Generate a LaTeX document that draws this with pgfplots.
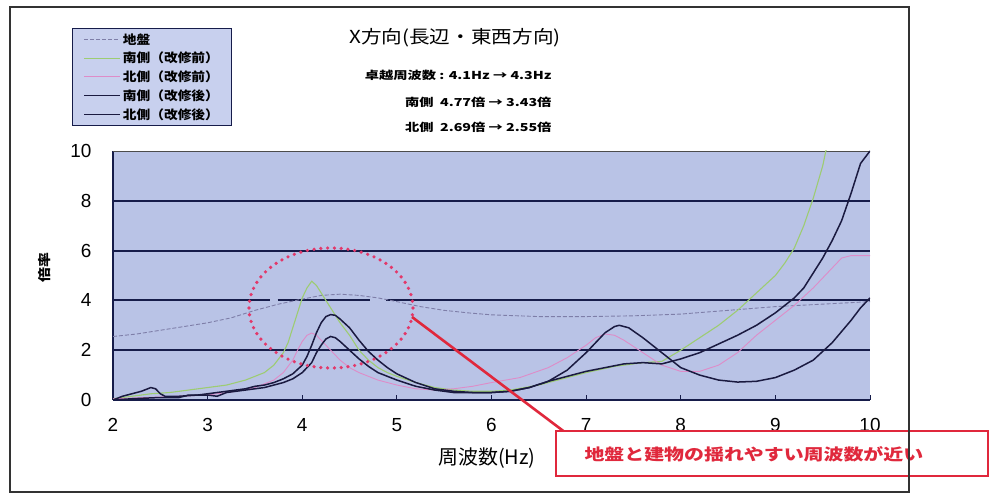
\documentclass[border=0pt]{standalone}
\usepackage{pgfplots}
\pgfplotsset{compat=1.18}
\usepackage{fontspec}
\setmainfont{Noto Sans CJK JP}
\newfontfamily\jpA[FakeStretch=1.3]{Noto Sans CJK JP}
\newfontfamily\jpB[FakeStretch=1.15]{Noto Sans CJK JP}
\newfontfamily\jpL[FakeStretch=1.1]{Noto Sans CJK JP}
\newfontfamily\jpC[FakeStretch=1.25]{Noto Sans CJK JP}
\newfontfamily\arialf{Liberation Sans}
\definecolor{plotbg}{HTML}{B9C3E6}
\definecolor{legbg}{HTML}{C8D0EE}
\definecolor{gridc}{HTML}{161C4A}
\definecolor{groundc}{HTML}{7E7EA8}
\definecolor{sbefore}{HTML}{9DCC72}
\definecolor{nbefore}{HTML}{DE8CC8}
\definecolor{afterc}{HTML}{1A1A40}
\definecolor{callred}{HTML}{E0283C}
\definecolor{dotred}{HTML}{E2386A}
\begin{document}
\begin{tikzpicture}[x=1bp,y=1bp]
\useasboundingbox (0,0) rectangle (990,497);
\fill[white] (0,0) rectangle (990,497);
\begin{axis}[
 at={(113bp,97bp)}, anchor=south west,
 scale only axis, width=757bp, height=249bp,
 xmin=2,xmax=10,ymin=0,ymax=10,
 axis background/.style={fill=plotbg},
 axis x line*=bottom, axis y line*=left,
 axis line style={-, line width=1.3bp, color=gridc},
 xtick={2,...,10}, ytick={0,2,...,10},
 tick align=inside, major tick length=5bp,
 ytick style={draw=none},
 xtick style={line width=1bp, color=gridc},
 ticklabel style={font=\arialf\fontsize{19}{19}\selectfont},
 /pgf/number format/assume math mode=true,
 xticklabel style={yshift=-15bp},
 yticklabel style={xshift=-18bp},
 legend style={at={(-0.0542,1.494)}, anchor=north west, fill=legbg, draw=gridc, line width=1bp,
   font=\jpL\bfseries\fontsize{12.5}{13}\selectfont, row sep=2.5bp, inner xsep=11bp, inner ysep=3bp},
 legend cell align=left,
 legend image code/.code={\draw[#1] (0bp,0bp) -- (36bp,0bp);},
]
% horizontal grid lines
\draw[gridc, line width=2bp] (axis cs:2,2) -- (axis cs:10,2);
\draw[gridc, line width=2bp] (axis cs:2,4) -- (axis cs:3.66,4);
\draw[gridc, line width=2bp] (axis cs:3.74,4) -- (axis cs:4.72,4);
\draw[gridc, line width=2bp] (axis cs:4.88,4) -- (axis cs:10,4);
\draw[gridc, line width=2bp] (axis cs:2,6) -- (axis cs:10,6);
\draw[gridc, line width=2bp] (axis cs:2,8) -- (axis cs:10,8);
\draw[gray!60!black, line width=0.6bp] (axis cs:2,10) -- (axis cs:10,10);

\addplot[groundc, line width=0.9bp, dash pattern=on 4bp off 2bp] coordinates {
(2.0,2.55) (2.25,2.65) (2.5,2.8) (2.75,2.95) (3.0,3.1) (3.25,3.3) (3.5,3.6) (3.75,3.85)
(4.0,4.05) (4.2,4.2) (4.4,4.25) (4.6,4.2) (4.8,4.1) (5.0,3.95) (5.25,3.75) (5.5,3.6)
(5.75,3.5) (6.0,3.42) (6.5,3.35) (7.0,3.35) (7.5,3.38) (8.0,3.45) (8.5,3.6) (9.0,3.75)
(9.5,3.85) (10.0,3.95)};
\addlegendentry{地盤}

\addplot[sbefore, line width=1.1bp] coordinates {
(2.0,0.05) (2.2,0.15) (2.4,0.25) (2.6,0.3) (2.8,0.4) (3.0,0.5) (3.2,0.6) (3.4,0.8)
(3.6,1.1) (3.7,1.4) (3.8,1.9) (3.85,2.3) (3.9,2.9) (3.95,3.5) (4.0,4.1) (4.05,4.5)
(4.1,4.77) (4.15,4.6) (4.2,4.3) (4.3,3.7) (4.4,3.1) (4.5,2.6) (4.6,2.0) (4.7,1.6)
(4.8,1.3) (4.9,1.1) (5.0,0.95) (5.2,0.7) (5.4,0.5) (5.6,0.4) (5.8,0.35) (6.0,0.35)
(6.2,0.4) (6.5,0.6) (6.8,0.9) (7.0,1.1) (7.3,1.35) (7.6,1.5) (7.8,1.55) (8.0,2.0)
(8.2,2.5) (8.4,3.0) (8.6,3.6) (8.8,4.3) (9.0,5.0) (9.1,5.5) (9.2,6.1) (9.3,7.0)
(9.4,8.1) (9.5,9.4) (9.55,10.3)};
\addlegendentry{南側（改修前）}

\addplot[nbefore, line width=0.9bp] coordinates {
(2.0,0.05) (2.5,0.12) (3.0,0.2) (3.3,0.35) (3.5,0.5) (3.7,0.8) (3.8,1.1) (3.9,1.6)
(3.95,2.0) (4.0,2.35) (4.05,2.6) (4.1,2.69) (4.15,2.6) (4.2,2.4) (4.3,2.0) (4.4,1.6)
(4.5,1.3) (4.6,1.1) (4.8,0.8) (5.0,0.6) (5.2,0.45) (5.4,0.4) (5.6,0.45) (5.8,0.55)
(6.0,0.7) (6.3,0.9) (6.6,1.3) (6.8,1.7) (7.0,2.2) (7.1,2.5) (7.2,2.65) (7.3,2.6)
(7.4,2.4) (7.6,1.9) (7.8,1.4) (8.0,1.15) (8.2,1.15) (8.4,1.4) (8.6,1.9) (8.8,2.6)
(9.0,3.2) (9.2,3.8) (9.4,4.5) (9.6,5.3) (9.7,5.7) (9.8,5.8) (10.0,5.8)};
\addlegendentry{北側（改修前）}

\addplot[afterc, line width=1.5bp] coordinates {
(2.0,0.0) (2.1,0.15) (2.2,0.25) (2.3,0.35) (2.4,0.5) (2.45,0.45) (2.5,0.25) (2.55,0.15)
(2.7,0.15) (2.9,0.2) (3.0,0.25) (3.2,0.35) (3.4,0.45) (3.5,0.55) (3.6,0.6) (3.7,0.7)
(3.8,0.85) (3.9,1.05) (4.0,1.4) (4.05,1.75) (4.1,2.2) (4.15,2.7) (4.2,3.1) (4.25,3.35)
(4.3,3.43) (4.35,3.4) (4.4,3.25) (4.5,2.9) (4.6,2.4) (4.7,1.95) (4.8,1.6) (4.9,1.3)
(5.0,1.05) (5.2,0.7) (5.4,0.45) (5.6,0.35) (5.8,0.3) (6.0,0.3) (6.2,0.35) (6.4,0.5)
(6.6,0.75) (6.8,0.95) (7.0,1.15) (7.2,1.3) (7.4,1.45) (7.6,1.5) (7.8,1.45) (8.0,1.65)
(8.2,1.9) (8.4,2.25) (8.6,2.6) (8.8,3.0) (9.0,3.5) (9.2,4.1) (9.3,4.5) (9.4,5.1)
(9.5,5.7) (9.6,6.4) (9.7,7.2) (9.8,8.3) (9.9,9.5) (10.0,10.0)};
\addlegendentry{南側（改修後）}

\addplot[afterc, line width=1.5bp] coordinates {
(2.0,0.0) (2.2,0.05) (2.5,0.1) (2.7,0.1) (2.8,0.2) (3.0,0.2) (3.1,0.15) (3.2,0.3)
(3.4,0.4) (3.6,0.5) (3.8,0.7) (3.9,0.85) (4.0,1.1) (4.1,1.5) (4.15,1.9) (4.2,2.2)
(4.25,2.45) (4.3,2.55) (4.35,2.5) (4.4,2.35) (4.5,2.0) (4.6,1.65) (4.7,1.35) (4.8,1.1)
(5.0,0.8) (5.2,0.55) (5.4,0.4) (5.6,0.3) (5.8,0.3) (6.0,0.3) (6.2,0.35) (6.4,0.5)
(6.6,0.75) (6.8,1.2) (7.0,1.9) (7.1,2.3) (7.2,2.7) (7.3,2.95) (7.35,3.0) (7.45,2.9)
(7.6,2.5) (7.8,1.9) (8.0,1.3) (8.2,1.0) (8.4,0.8) (8.6,0.72) (8.8,0.75) (9.0,0.9)
(9.2,1.2) (9.4,1.6) (9.6,2.3) (9.8,3.2) (9.9,3.7) (10.0,4.1)};
\addlegendentry{北側（改修後）}
\end{axis}

% titles and notes
\node[font=\jpB\fontsize{18}{18}\selectfont] at (455,459) {X方向(長辺・東西方向)};
\node[anchor=east, font=\jpA\bfseries\fontsize{11}{12}\selectfont] at (555,422) {卓越周波数 : 4.1Hz → 4.3Hz};
\node[anchor=east, font=\jpA\bfseries\fontsize{11}{12}\selectfont] at (555,395) {南側\ \ 4.77倍 → 3.43倍};
\node[anchor=east, font=\jpA\bfseries\fontsize{11}{12}\selectfont] at (555,370) {北側\ \ 2.69倍 → 2.55倍};
\node[rotate=90, font=\jpB\bfseries\fontsize{13}{13}\selectfont] at (45,229) {倍率};
\node[font=\fontsize{20}{20}\selectfont] at (487,39) {周波数(Hz)};

% highlight
\draw[dotred, line width=3.6bp, line cap=round, dash pattern=on 0bp off 6.8bp] (331,189) ellipse [x radius=82bp, y radius=60bp];
\draw[callred, line width=2.6bp] (412,180) -- (566,64);
\draw[callred, line width=2bp, fill=white] (556,21) rectangle (988,66);
\node[anchor=west, text=callred, font=\jpC\bfseries\fontsize{16}{16}\selectfont] at (581,43) {地盤と建物の揺れやすい周波数が近い};

% outer frame
\draw[black!80, line width=1.5bp] (10,5) rectangle (909,490);
\end{tikzpicture}
\end{document}
